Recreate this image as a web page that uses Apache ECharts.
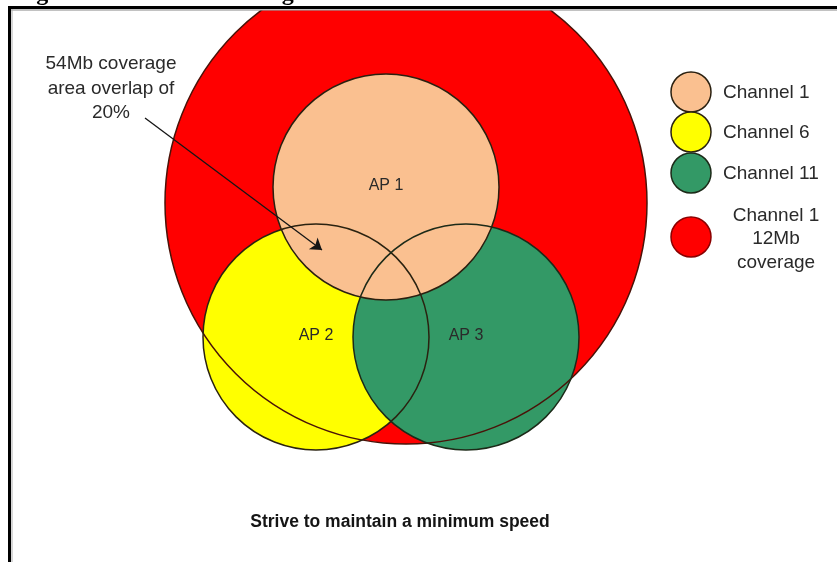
<!DOCTYPE html>
<html><head><meta charset="utf-8">
<script src="https://cdn.jsdelivr.net/npm/echarts@6/dist/echarts.min.js"></script>
<style>html,body{margin:0;padding:0;background:#fff}#c{width:837px;height:562px}</style>
</head><body><div id="c"></div>
<script>
// ---- data (diagram units = reference pixels) ----
const circleNames = ['Channel 1 12Mb coverage', 'AP 2', 'AP 3', 'AP 1'];
const circleX = [406, 316, 466, 386];
const circleY = [203, 337, 337, 187];
const circleR = [241, 113, 113, 113];
const legendNames = ['Channel 1', 'Channel 6', 'Channel 11', 'Channel 1\n12Mb\ncoverage'];
const annotationText = '54Mb coverage\narea overlap of\n20%';
const arrowFrom = [145, 118];
const arrowTo = [322, 250];
const footerText = 'Strive to maintain a minimum speed';
const titleText = 'Figure 3: Channel Coverage Area';

// ---- styles ----
const fillColors = {'Channel 1 12Mb coverage': '#ff0000', 'AP 2': '#ffff00', 'AP 3': '#339966', 'AP 1': '#fac090'};
const strokeColors = {'Channel 1 12Mb coverage': '#4a1208', 'AP 2': '#2a2210', 'AP 3': '#1c2a18', 'AP 1': '#2a2010'};
const legendFills = ['#fac090', '#ffff00', '#339966', '#ff0000'];
const legendStrokes = ['#2a2010', '#2a2210', '#1c2a18', '#8a0000'];
const SANS = '"Liberation Sans", Arial, sans-serif';

const data = circleNames.map((n, i) => [circleX[i], circleY[i], circleR[i], n]);

function circleItem(api, withFill) {
  const name = api.value(3);
  const c = api.coord([api.value(0), api.value(1)]);
  const r = api.size([api.value(2), api.value(2)])[0];
  if (withFill) {
    return {type: 'circle', shape: {cx: c[0], cy: c[1], r: r}, style: {fill: fillColors[name], stroke: null}};
  }
  const children = [{type: 'circle', shape: {cx: c[0], cy: c[1], r: r}, style: {fill: null, stroke: strokeColors[name], lineWidth: 1.5}}];
  if (name.indexOf('AP') === 0) {
    children.push({type: 'text', style: {text: name, x: c[0], y: c[1] - 1, align: 'center', verticalAlign: 'middle', font: '16px ' + SANS, fill: '#2a2a2a'}});
  }
  return {type: 'group', children: children};
}

const chart = echarts.init(document.getElementById('c'), null, {renderer: 'canvas'});
const legendY = [92, 132, 173, 237];
const graphics = [];
legendNames.forEach((n, i) => {
  graphics.push({type: 'circle', shape: {cx: 691, cy: legendY[i], r: 20}, style: {fill: legendFills[i], stroke: legendStrokes[i], lineWidth: 1.5}});
  if (i < 3) {
    graphics.push({type: 'text', style: {text: n, x: 723, y: legendY[i] + 1, verticalAlign: 'middle', font: '19px ' + SANS, fill: '#2a2a2a'}});
  } else {
    graphics.push({type: 'text', style: {text: n, x: 776, y: 239, align: 'center', verticalAlign: 'middle', lineHeight: 23.5, font: '19px ' + SANS, fill: '#2a2a2a'}});
  }
});
graphics.push(
  {type: 'text', style: {text: annotationText, x: 111, y: 88.5, align: 'center', verticalAlign: 'middle', lineHeight: 24.5, font: '19px ' + SANS, fill: '#2a2a2a'}},
  {type: 'text', style: {text: footerText, x: 400, y: 522, align: 'center', verticalAlign: 'middle', font: 'bold 17.5px ' + SANS, fill: '#151515'}},
  {type: 'text', style: {text: titleText, x: 15, y: -6, verticalAlign: 'middle', font: 'bold 24px "Liberation Serif", "Times New Roman", serif', fill: '#000'}},
  {type: 'rect', shape: {x: 8, y: 6, width: 829, height: 3}, style: {fill: '#000'}, z: 100},
  {type: 'rect', shape: {x: 11, y: 9, width: 826, height: 2}, style: {fill: '#9a9a9a', opacity: 0.6}, z: 100},
  {type: 'rect', shape: {x: 8, y: 6, width: 3, height: 556}, style: {fill: '#000'}, z: 100},
  {type: 'rect', shape: {x: 11, y: 9, width: 2, height: 553}, style: {fill: '#b0b0b0', opacity: 0.5}, z: 100}
);

chart.setOption({
  animation: false,
  backgroundColor: '#fff',
  grid: {left: 0, right: 0, top: 10, bottom: 0},
  xAxis: {type: 'value', min: 0, max: 837, show: false},
  yAxis: {type: 'value', min: 10, max: 562, inverse: true, show: false},
  series: [
    {type: 'custom', name: 'fills', clip: true, z: 1, data: data, renderItem: (p, api) => circleItem(api, true)},
    {type: 'custom', name: 'outlines', clip: true, z: 2, data: data, renderItem: (p, api) => circleItem(api, false)},
    {type: 'lines', coordinateSystem: 'cartesian2d', z: 3, symbol: ['none', 'arrow'], symbolSize: [0, 11],
      lineStyle: {color: '#151515', width: 1.3, opacity: 1},
      data: [{coords: [arrowFrom, arrowTo]}]}
  ],
  graphic: graphics
});
</script></body></html>
